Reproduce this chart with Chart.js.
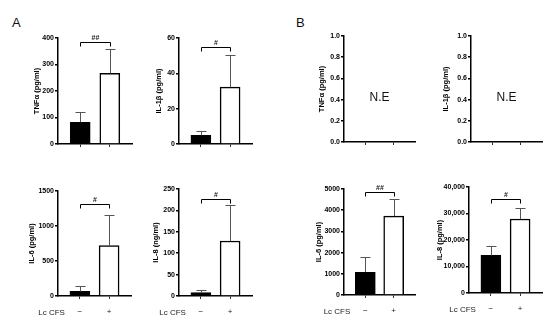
<!DOCTYPE html>
<html>
<head>
<meta charset="utf-8">
<script src="https://cdn.jsdelivr.net/npm/chart.js@4/dist/chart.umd.min.js"></script>
<style>
  body { margin: 0; background: #fff; width: 550px; height: 328px; position: relative; overflow: hidden;
         font-family: "Liberation Sans", Arial, sans-serif; }
  canvas { position: absolute; }
  .tag { position: absolute; font-size: 13px; line-height: 13px; color: #111; }
</style>
</head>
<body>
<div class="tag" style="left:12px;top:16px">A</div>
<div class="tag" style="left:296px;top:16px">B</div>
<script>
var groups = ['−', '+'];
var groupTitle = 'Lc CFS';

// A: mean and SD
var tnfA = [82, 267];
var tnfASd = [40, 93];
var il1bA = [4.9, 32.2];
var il1bASd = [2.5, 18.3];
var il6A = [65, 719];
var il6ASd = [82, 445];
var il8A = [8, 128.5];
var il8ASd = [5, 85];

// B
var il6B = [1074, 3723];
var il6BSd = [696, 790];
var il8B = [14190, 27920];
var il8BSd = [3400, 4150];

var panels = [
  { title: 'TNFα (pg/ml)', mean: tnfA, sd: tnfASd, max: 400, step: 100, bracket: 386, sig: '##',
    ax: 58, top: 38, zero: 144, right: 132, titleOff: 21, labels: false },
  { title: 'IL-1β (pg/ml)', mean: il1bA, sd: il1bASd, max: 60, step: 20, bracket: 55, sig: '#',
    ax: 179, top: 38, zero: 144, right: 252, titleOff: 20, labels: false },
  { title: 'IL-6 (pg/ml)', mean: il6A, sd: il6ASd, max: 1500, step: 500, bracket: 1310, sig: '#',
    ax: 58, top: 191, zero: 296, right: 131, titleOff: 26, labels: true },
  { title: 'IL-8 (ng/ml)', mean: il8A, sd: il8ASd, max: 250, step: 50, bracket: 226, sig: '#',
    ax: 179, top: 189, zero: 296, right: 252, titleOff: 23, labels: true },
  { title: 'TNFα (pg/ml)', mean: null, max: 1, step: 0.2, fmt: 'dec',
    ax: 344, top: 36, zero: 142, right: 415, titleOff: 22, labels: false },
  { title: 'IL-1β (pg/ml)', mean: null, max: 1, step: 0.2, fmt: 'dec',
    ax: 471, top: 36, zero: 142, right: 542, titleOff: 25, labels: false },
  { title: 'IL-6 (pg/ml)', mean: il6B, sd: il6BSd, max: 5000, step: 1000, bracket: 4845, sig: '##',
    ax: 344, top: 189, zero: 295, right: 415, titleOff: 25, labels: true },
  { title: 'IL-8 (pg/ml)', mean: il8B, sd: il8BSd, max: 40000, step: 10000, bracket: 35580, sig: '#', fmt: 'comma',
    ax: 469, top: 187, zero: 293, right: 542, titleOff: 29, labels: true }
];

var PT = 8, PR = 6, XH = 24;

function overlay(p) {
  return {
    id: 'overlay',
    afterDatasetsDraw: function (chart) {
      var c = chart.ctx, x = chart.scales.x, y = chart.scales.y;
      c.save();
      if (p.mean) {
        c.strokeStyle = '#555';
        c.lineWidth = 1;
        p.mean.forEach(function (m, i) {
          var px = Math.round(x.getPixelForValue(i + 1)) + 0.5;
          var y0 = y.getPixelForValue(m), y1 = Math.round(y.getPixelForValue(m + p.sd[i])) + 0.5;
          c.beginPath();
          c.moveTo(px, y0); c.lineTo(px, y1);
          c.moveTo(px - 5, y1); c.lineTo(px + 5, y1);
          c.stroke();
        });
        var bx0 = Math.round(x.getPixelForValue(1)) + 0.5;
        var bx1 = Math.round(x.getPixelForValue(2)) + 0.5;
        var by = Math.round(y.getPixelForValue(p.bracket)) + 0.5;
        c.strokeStyle = '#000';
        c.beginPath();
        c.moveTo(bx0, by + 4); c.lineTo(bx0, by); c.lineTo(bx1, by); c.lineTo(bx1, by + 4);
        c.stroke();
        c.fillStyle = '#222';
        c.font = 'bold 7px "Liberation Sans"';
        c.textAlign = 'center';
        c.textBaseline = 'bottom';
        c.fillText(p.sig, (bx0 + bx1) / 2, by - 1);
      } else {
        c.fillStyle = '#111';
        c.font = '12px "Liberation Sans"';
        c.textAlign = 'center';
        c.textBaseline = 'middle';
        c.fillText('N.E', x.getPixelForValue(1.5), y.getPixelForValue(0.42));
      }
      if (p.labels) {
        c.fillStyle = '#222';
        c.font = '8px "Liberation Sans"';
        c.textAlign = 'right';
        c.textBaseline = 'middle';
        c.fillText(groupTitle, x.getPixelForValue(1) - 15, chart.chartArea.bottom + 16.5);
      }
      c.restore();
    }
  };
}

panels.forEach(function (p) {
  var yw = Math.round(p.titleOff + 4.5);
  var cv = document.createElement('canvas');
  var w = yw + (p.right - p.ax) + PR;
  var h = PT + (p.zero - p.top) + XH;
  cv.width = w; cv.height = h;
  cv.style.left = (p.ax - yw) + 'px';
  cv.style.top = (p.top - PT) + 'px';
  document.body.appendChild(cv);

  var data = p.mean ? p.mean.map(function (m, i) { return { x: i + 1, y: m }; }) : [];

  new Chart(cv.getContext('2d'), {
    type: 'bar',
    data: {
      datasets: [{
        data: data,
        backgroundColor: ['#000', '#fff'],
        borderColor: '#000',
        borderWidth: 1.5,
        barThickness: 20
      }]
    },
    options: {
      responsive: false,
      animation: false,
      layout: { padding: { top: PT, right: PR, left: 0, bottom: 0 } },
      plugins: { legend: { display: false }, tooltip: { enabled: false } },
      scales: {
        x: {
          type: 'linear',
          min: 0.25,
          max: 2.75,
          offset: false,
          afterBuildTicks: function (s) { s.ticks = [{ value: 1 }, { value: 2 }]; },
          afterFit: function (s) { s.height = XH; },
          grid: { offset: false, drawOnChartArea: false, tickLength: 3, color: '#333', lineWidth: 1 },
          border: { color: '#000', width: 1.5 },
          ticks: {
            padding: 8,
            color: '#222',
            font: { family: 'Liberation Sans', size: 8 },
            callback: function (v) { return p.labels ? groups[v - 1] : ''; }
          }
        },
        y: {
          min: 0,
          max: p.max,
          afterFit: function (s) { s.width = yw; },
          grid: { drawOnChartArea: false, tickLength: 3, color: '#000', lineWidth: 1.5 },
          border: { color: '#000', width: 1.5 },
          ticks: {
            stepSize: p.step,
            padding: 1,
            color: '#000',
            font: { family: 'Liberation Sans', size: 7, weight: 'bold' },
            callback: function (v) {
              if (p.fmt === 'dec') return v.toFixed(1);
              if (p.fmt === 'comma') return v.toLocaleString('en-US');
              return v;
            }
          },
          title: {
            display: true,
            text: p.title,
            padding: 0,
            color: '#000',
            font: { family: 'Liberation Sans', size: 7.5, weight: 'bold' }
          }
        }
      }
    },
    plugins: [overlay(p)]
  });
});
</script>
</body>
</html>
